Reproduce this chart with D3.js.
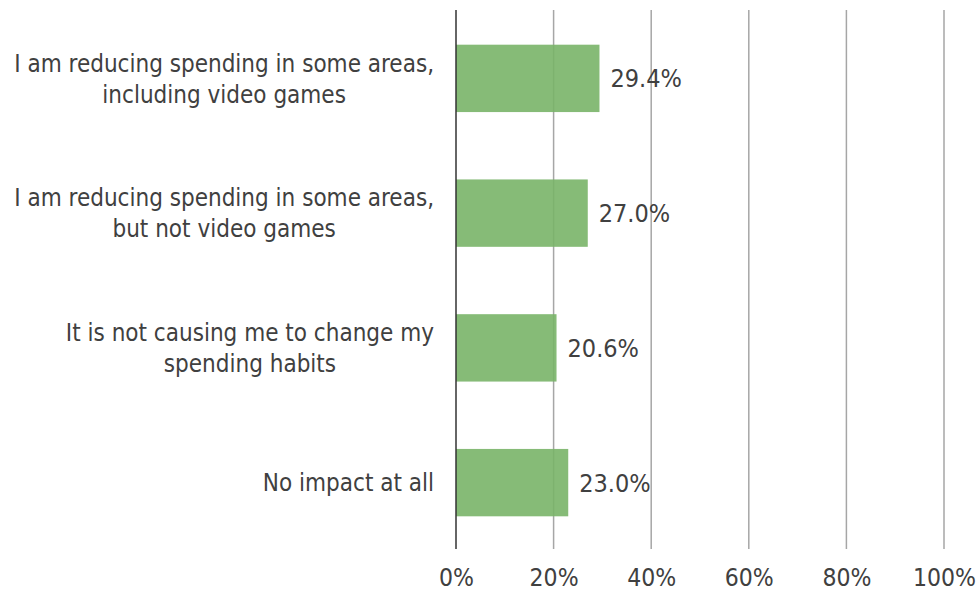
<!DOCTYPE html>
<html>
<head>
<meta charset="utf-8">
<script src="https://cdn.jsdelivr.net/npm/d3@7"></script>
<style>
  html, body { margin: 0; padding: 0; background: #ffffff; }
  svg { display: block; }
  text { font-family: "DejaVu Sans Condensed", "DejaVu Sans", sans-serif; fill: #404040; }
</style>
</head>
<body>
<svg id="chart" width="979" height="593"></svg>
<script>
// Survey answers, top to bottom, each split into the lines it is printed on
const categories = [
  ["I am reducing spending in some areas,", "including video games"],
  ["I am reducing spending in some areas,", "but not video games"],
  ["It is not causing me to change my", "spending habits"],
  ["No impact at all"]
];
// Share of respondents (%)
const values = [29.4, 27.0, 20.6, 23.0];
const tickValues = [0, 20, 40, 60, 80, 100];

const svg = d3.select("#chart");
const margin = { top: 10, right: 35, bottom: 44, left: 456 };
const width = 979 - margin.left - margin.right;
const height = 593 - margin.top - margin.bottom;

const g = svg.append("g").attr("transform", `translate(${margin.left},${margin.top})`);

const x = d3.scaleLinear().domain([0, 100]).range([0, width]);
const y = d3.scaleBand().domain(d3.range(values.length)).range([0, height])
  .paddingInner(0.5).paddingOuter(0.25);

// Vertical gridlines
g.append("g").selectAll("line")
  .data(tickValues.filter(t => t > 0))
  .join("line")
  .attr("x1", d => x(d)).attr("x2", d => x(d))
  .attr("y1", 0).attr("y2", height)
  .attr("stroke", "#a6a6a6").attr("stroke-width", 1.5);

// Bars
g.append("g").selectAll("rect")
  .data(values)
  .join("rect")
  .attr("x", x(0))
  .attr("y", (d, i) => y(i) + 1)
  .attr("width", d => x(d) - x(0))
  .attr("height", y.bandwidth())
  .attr("fill", "#79b468")
  .attr("fill-opacity", 0.9);

// Baseline (0%)
g.append("line")
  .attr("x1", x(0)).attr("x2", x(0))
  .attr("y1", 0).attr("y2", height)
  .attr("stroke", "#333333").attr("stroke-width", 1.5);

// Value labels
g.append("g").selectAll("text")
  .data(values)
  .join("text")
  .attr("x", d => x(d) + 11)
  .attr("y", (d, i) => y(i) + y.bandwidth() / 2 + 1)
  .attr("dy", "0.36em")
  .attr("font-size", 25)
  .text(d => d.toFixed(1) + "%");

// X-axis tick labels
const xAxis = d3.axisBottom(x).tickValues(tickValues).tickFormat(d => d + "%").tickSize(0).tickPadding(20);
const ax = g.append("g").attr("transform", `translate(0,${height})`).call(xAxis);
ax.select(".domain").remove();
ax.selectAll("text").attr("font-size", 24.5).attr("fill", "#404040")
  .style("font-family", "'DejaVu Sans Condensed', 'DejaVu Sans', sans-serif");

// Category labels: lines centred on each other, block right-aligned to the axis
const lineH = 31;
const labelRight = -22;
const cats = g.append("g");
categories.forEach((lines, i) => {
  const cy = y(i) + y.bandwidth() / 2 + 1;
  const t = cats.append("text")
    .attr("font-size", 24)
    .attr("text-anchor", "middle");
  lines.forEach((ln, k) => {
    t.append("tspan")
      .attr("y", cy + (k - (lines.length - 1) / 2) * lineH)
      .attr("dy", "0.36em")
      .text(ln);
  });
  let maxW = 0;
  t.selectAll("tspan").each(function () { maxW = Math.max(maxW, this.getComputedTextLength()); });
  t.selectAll("tspan").attr("x", labelRight - maxW / 2);
});
</script>
</body>
</html>
